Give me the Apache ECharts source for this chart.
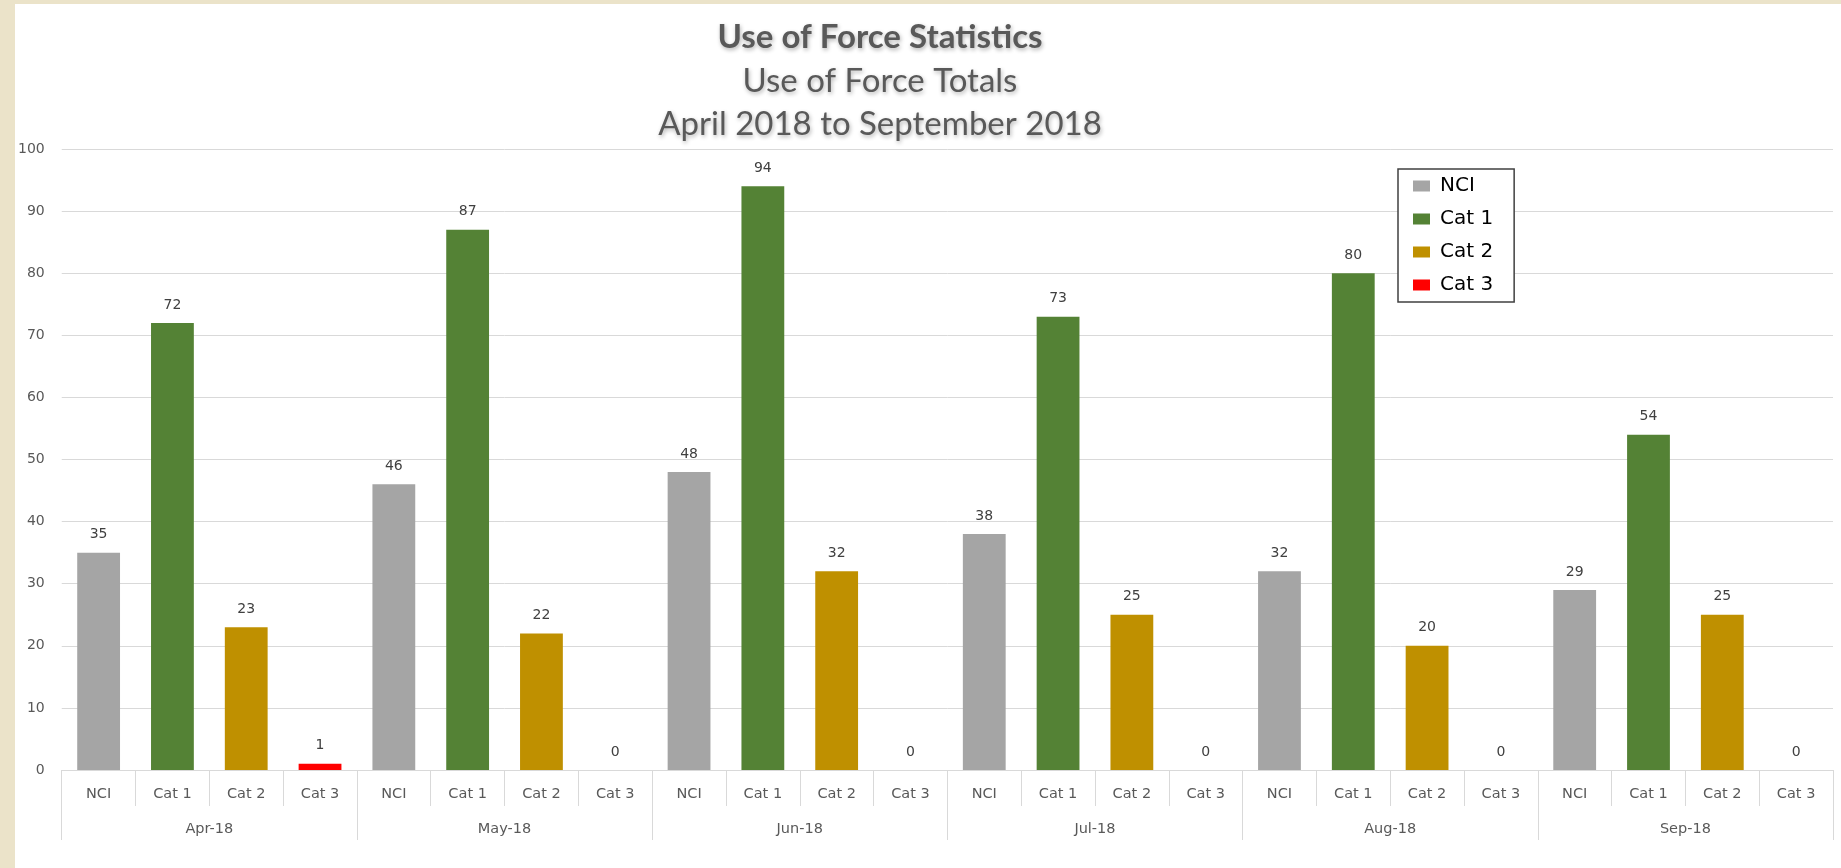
<!DOCTYPE html>
<html>
<head>
<meta charset="utf-8">
<script src="https://cdn.jsdelivr.net/npm/echarts@6/dist/echarts.min.js"></script>
<style>
  html, body { margin: 0; padding: 0; width: 1841px; height: 868px; overflow: hidden; background: #ebe3c9; }
  #chart { position: absolute; left: 15px; top: 4px; width: 1826px; height: 864px; background: #fff; }
</style>
</head>
<body>
<div id="chart"></div>
<script>
// months and categories
var months = ['Apr-18', 'May-18', 'Jun-18', 'Jul-18', 'Aug-18', 'Sep-18']
var cats = ['NCI', 'Cat 1', 'Cat 2', 'Cat 3']
// values per month
var nci = [35, 46, 48, 38, 32, 29]
var cat1 = [72, 87, 94, 73, 80, 54]
var cat2 = [23, 22, 32, 25, 20, 25]
var cat3 = [1, 0, 0, 0, 0, 0]
var colors = ['#a5a5a5', '#548235', '#bf9000', '#ff0000']

var values = [nci, cat1, cat2, cat3]

// 24 slots: each month has NCI, Cat 1, Cat 2, Cat 3
var slots = []
months.forEach(function () {
  cats.forEach(function (c) { slots.push(c) })
})

function seriesData (k) {
  var out = []
  months.forEach(function (m, i) {
    cats.forEach(function (c, j) {
      out.push(j === k ? values[k][i] : '-')
    })
  })
  return out
}

var labelFont = 'DejaVu Sans'
var titleShadow = {
  textShadowColor: 'rgba(0,0,0,0.3)',
  textShadowBlur: 4,
  textShadowOffsetX: 1,
  textShadowOffsetY: 2
}

var myChart = echarts.init(document.getElementById('chart'))
myChart.setOption({
  animation: false,
  title: [
    {
      text: 'Use of Force Statistics',
      left: 860, top: 12, textAlign: 'center',
      textStyle: Object.assign({ fontFamily: 'Lato', fontWeight: 'bold', fontSize: 33, color: '#595959' }, titleShadow)
    },
    {
      text: 'Use of Force Totals',
      left: 860, top: 56, textAlign: 'center',
      textStyle: Object.assign({ fontFamily: 'Lato', fontWeight: 'normal', fontSize: 33, color: '#595959' }, titleShadow)
    },
    {
      text: 'April 2018 to September 2018',
      left: 860, top: 99, textAlign: 'center',
      textStyle: Object.assign({ fontFamily: 'Lato', fontWeight: 'normal', fontSize: 33, color: '#595959' }, titleShadow)
    }
  ],
  legend: {
    orient: 'vertical',
    left: 1383,
    top: 165,
    data: cats,
    itemWidth: 17,
    itemHeight: 11,
    itemGap: 13,
    padding: [7, 21, 7, 15],
    borderColor: '#404040',
    borderWidth: 1.5,
    backgroundColor: '#fff',
    icon: 'rect',
    textStyle: { fontFamily: labelFont, fontSize: 20, color: '#000', lineHeight: 20, padding: [0, 0, 0, 5] }
  },
  grid: { left: 45, right: 8, top: 145, bottom: 98, containLabel: false },
  xAxis: [
    {
      type: 'category',
      data: slots,
      position: 'bottom',
      axisLine: { lineStyle: { color: '#d9d9d9', width: 1 } },
      axisTick: { show: true, length: 36, interval: 0, lineStyle: { color: '#d9d9d9' } },
      axisLabel: { interval: 0, margin: 17, fontFamily: labelFont, fontSize: 14.5, color: '#595959' }
    },
    {
      type: 'category',
      data: months,
      position: 'bottom',
      offset: 0,
      axisLine: { show: false },
      axisTick: { show: true, length: 70, interval: 0, lineStyle: { color: '#d9d9d9' } },
      axisLabel: { interval: 0, margin: 52, fontFamily: labelFont, fontSize: 14.5, color: '#595959' }
    }
  ],
  yAxis: {
    type: 'value',
    min: 0,
    max: 100,
    interval: 10,
    axisLine: { show: false },
    axisTick: { show: false },
    axisLabel: { margin: 17, fontFamily: labelFont, fontSize: 14, color: '#595959' },
    splitLine: { lineStyle: { color: '#d9d9d9' } }
  },
  series: cats.map(function (c, k) {
    return {
      name: c,
      type: 'bar',
      stack: 'all',
      xAxisIndex: 0,
      barCategoryGap: '42%',
      data: seriesData(k),
      itemStyle: { color: colors[k] },
      label: {
        show: true,
        position: 'top',
        distance: 11,
        fontFamily: labelFont,
        fontSize: 14,
        color: '#404040'
      }
    }
  })
})
</script>
</body>
</html>
